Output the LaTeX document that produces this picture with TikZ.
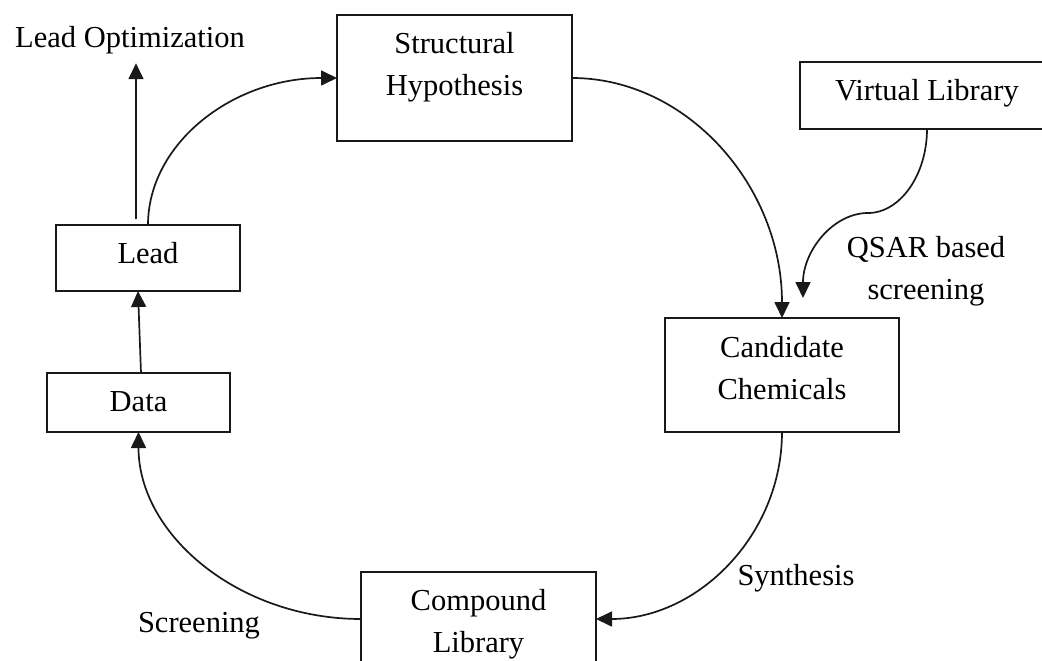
\documentclass[tikz,border=0pt]{standalone}
\usepackage{fontspec}
\setmainfont{Liberation Serif}
\usetikzlibrary{arrows.meta}
\begin{document}
\begin{tikzpicture}[x=1pt,y=-1pt,
  boxnode/.style={draw=black!90,line width=1.9pt,inner sep=0pt,outer sep=0pt,rectangle},
  txt/.style={inner sep=0pt,outer sep=0pt,align=center,text=black,font=\fontsize{30.5}{42}\selectfont},
  conn/.style={draw=black!90,line width=1.7pt},
  arr/.style={conn,-{Triangle[length=16pt,width=15pt]}}]
\useasboundingbox (0,0) rectangle (1042,661);
\clip (0,0) rectangle (1042,661);
% boxes
\node[boxnode,minimum width=235pt,minimum height=126pt] (sh) at (454.5,78) {};
\node[boxnode,minimum width=254pt,minimum height=67pt] (vl) at (927,95.5) {};
\node[boxnode,minimum width=184pt,minimum height=66pt] (lead) at (148,258) {};
\node[boxnode,minimum width=183pt,minimum height=59pt] (data) at (138.5,402.5) {};
\node[boxnode,minimum width=234pt,minimum height=114pt] (cc) at (782,375) {};
\node[boxnode,minimum width=235pt,minimum height=94pt] (cl) at (478.5,619) {};
% texts
\node[txt] (shtext) at (454.5,67) {Structural\\Hypothesis};
\node[txt] (vltext) at (927,93) {Virtual Library};
\node[txt] (leadtext) at (148,252.6) {Lead};
\node[txt] (datatext) at (138.5,402) {Data};
\node[txt] (cctext) at (782,368) {Candidate\\Chemicals};
\node[txt] (cltext) at (478.5,624) {Compound\\Library};
\node[txt] (lo) at (130,40.4) {Lead Optimization};
\node[txt] (qsar) at (926,271) {QSAR based\\screening};
\node[txt] (synth) at (796,578) {Synthesis};
\node[txt] (scr) at (199,626) {Screening};
% connectors
\coordinate (lostart) at ([xshift=-12pt,yshift=6pt]lead.north);
\draw[arr] (lostart) -- ([yshift=-9pt]lostart |- lo.south);
\draw[arr] (lead.north) .. controls +(0,-81) and +(-105,0) .. (sh.west);
\draw[arr] (sh.east) .. controls +(115,0) and +(0,-132) .. (cc.north);
\draw[arr] (cc.south) .. controls +(0,103) and +(102,0) .. (cl.east);
\draw[arr] (cl.west) .. controls +(-122,0) and +(0,103) .. (data.south);
\draw[arr] ([xshift=2.5pt]data.north) -- ([xshift=-10pt]lead.south);
\coordinate (qmid) at (868,213);
\coordinate (qtip) at (803,298);
\draw[arr] (vl.south) .. controls +(0,46) and +(32,0) .. (qmid) .. controls +(-35,0) and +(0,-47) .. (qtip);
\end{tikzpicture}
\end{document}
